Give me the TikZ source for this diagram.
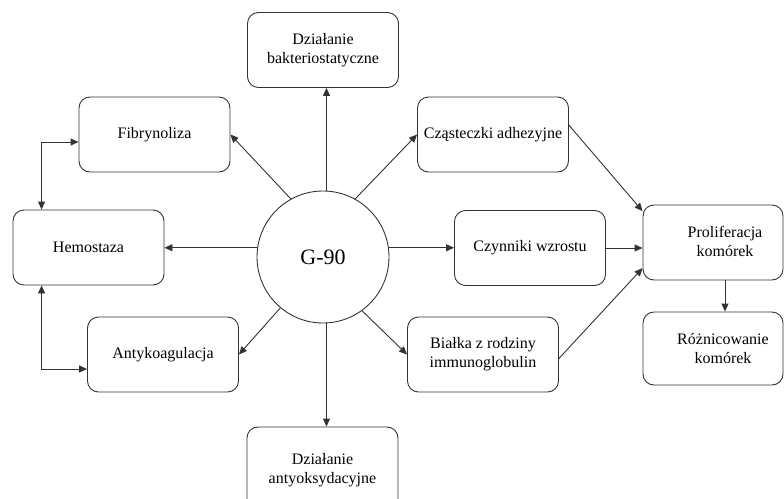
\documentclass[tikz,border=0pt]{standalone}
\usepackage{fontspec}
\setmainfont{Liberation Serif}
\usetikzlibrary{arrows.meta}
\begin{document}
\begin{tikzpicture}[x=1pt,y=-1pt,
  box/.style={draw=black!80, line width=0.9pt, rounded corners=11pt, minimum width=151pt, minimum height=75pt, inner sep=2pt, align=center, font=\fontsize{16}{19}\selectfont},
  plain/.style={inner sep=0pt, align=center, font=\fontsize{16}{19}\selectfont},
  arr/.style={draw=black!80, line width=0.9pt, -{Triangle[length=8pt,width=7pt]}},
  arrb/.style={draw=black!80, line width=0.9pt, {Triangle[length=8pt,width=7pt]}-{Triangle[length=8pt,width=7pt]}}]
\useasboundingbox (0,0) rectangle (784,498);
\node[draw=black!80, line width=0.9pt, circle, minimum size=132pt, inner sep=0pt, font=\fontsize{22}{26}\selectfont] (g) at (323,257) {G-90};
\node[box] (bakt) at (323,50) {Działanie\\bakteriostatyczne};
\node[box] (fib) at (154.5,134.5) {Fibrynoliza};
\node[box] (hem) at (88.5,247.5) {Hemostaza};
\node[box] (anty) at (163,354.5) {Antykoagulacja};
\node[box] (czas) at (493,134.5) {Cząsteczki adhezyjne};
\node[box] (czyn) at (530,248) {Czynniki wzrostu};
\node[box] (bial) at (483,354.5) {Białka z rodziny\\immunoglobulin};
\node[box, minimum width=140pt] (prol) at (713,242.5) {};
\node[plain] (prolt) at (725,241) {Proliferacja\\komórek};
\node[box, minimum width=140pt, minimum height=73pt] (roz) at (713,348.5) {};
\node[plain] (rozt) at (723,349) {Różnicowanie\\komórek};
\node[box, minimum height=86pt] (aoks) at (322.5,470) {Działanie\\antyoksydacyjne};
\draw[arr] (g.87) -- (g.87 |- bakt.south);
\draw[arr] (g.119) -- (fib.east);
\draw[arr] (g.61) -- (czas.west);
\draw[arr] (g.172) -- (g.172 -| hem.east);
\draw[arr] (g.8) -- (g.8 -| czyn.west);
\draw[arr] (g.230) -- (anty.east);
\draw[arr] (g.306) -- (bial.west);
\draw[arr] (g.273) -- (g.273 |- aoks.north);
\draw[arr] (czas.7) -- (prol.156);
\draw[arr] (czyn.east) -- (czyn.east -| prol.west);
\draw[arr] (bial.-3) -- (prol.200);
\draw[arr] (prol.south -| prolt) -- (roz.north -| prolt);
\draw[arrb] ([xshift=29pt]hem.north west) |- ([yshift=-7.5pt]fib.west);
\draw[arrb] ([xshift=29pt]hem.south west) |- ([yshift=-14.5pt]anty.west);
\end{tikzpicture}
\end{document}
